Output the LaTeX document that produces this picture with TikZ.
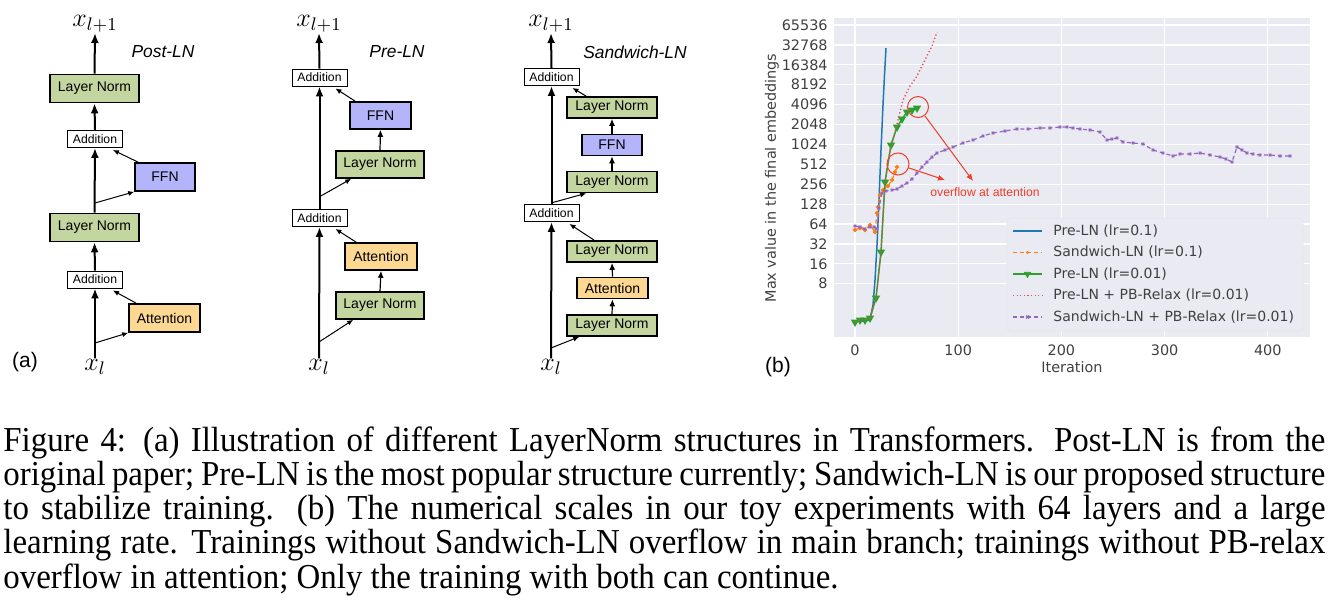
\RequirePackage{fix-cm}
\documentclass[tikz,border=0pt]{standalone}
\usepackage{fontspec}
\setmainfont{Liberation Serif}
\setsansfont{Liberation Sans}
\newfontfamily\plotfont{DejaVu Sans}
\newfontfamily\capserif[FakeStretch=0.94]{Liberation Serif}
\usetikzlibrary{arrows.meta,plotmarks}

\definecolor{lngreen}{RGB}{196,214,160}
\definecolor{ffnblue}{RGB}{180,180,250}
\definecolor{attorange}{RGB}{252,216,147}
\definecolor{plotbg}{RGB}{234,234,242}
\definecolor{tabblue}{RGB}{31,119,180}
\definecolor{taborange}{RGB}{255,127,14}
\definecolor{tabgreen}{RGB}{44,160,44}
\definecolor{tabred}{RGB}{214,39,40}
\definecolor{tabpurple}{RGB}{148,103,189}
\definecolor{annred}{RGB}{236,62,40}

\newcommand\xsz{\fontsize{13}{15}\selectfont}
\newcommand\capfont{\capserif\fontsize{17.5}{17.15}\selectfont\lineskiplimit=-20pt\relax}
\newcommand\capline[1]{\makebox[661pt][s]{#1}}

\begin{document}
\begin{tikzpicture}[x=0.5pt, y=-0.5pt, every node/.style={font=\sffamily},
	blk/.style={draw=black, line width=0.8pt, inner sep=0pt, font=\sffamily\fontsize{7}{8}\selectfont},
	lnbox/.style={blk, fill=lngreen, minimum width=44.5pt, minimum height=14pt},
	ffnbox/.style={blk, fill=ffnblue, minimum width=30pt, minimum height=14pt},
	attbox/.style={blk, fill=attorange, minimum width=35.5pt, minimum height=14pt},
	flat/.style={minimum height=10.5pt},
	addbox/.style={draw=black, line width=0.45pt, fill=white, inner sep=0pt, minimum width=27.5pt, minimum height=8.5pt, font=\sffamily\fontsize{6.1}{7}\selectfont},
	title/.style={font=\sffamily\itshape\fontsize{8.7}{10}\selectfont},
	mainarr/.style={line width=1pt, -{Latex[length=5pt,width=4pt]}},
	colarr/.style={line width=0.6pt, -{Latex[length=3.5pt,width=3pt]}},
	sidearr/.style={line width=0.5pt, -{Latex[length=3pt,width=2.6pt]}},
	ticklab/.style={font=\plotfont\fontsize{7.2}{8}\selectfont, text=black!75, inner sep=0pt},
	legtext/.style={font=\plotfont\fontsize{7}{8}\selectfont, text=black!75, inner sep=0pt, anchor=west}]
	\useasboundingbox (0,0) rectangle (1340,606);

	% Post-LN
	\node (postIn) at (95,367) {\xsz$x_l$};
	\node (postOut) at (95,24) {\xsz$x_{l+1}$};
	\node[title] (postT) at (163,52) {Post-LN};
	\node[addbox] (postA1) at (95,279.5) {Addition};
	\node[lnbox] (postLN1) at (94.5,227.5) {Layer Norm};
	\node[addbox] (postA2) at (95,139) {Addition};
	\node[lnbox] (postLN2) at (94.5,88.5) {Layer Norm};
	\node[attbox] (postAtt) at (164.5,318) {Attention};
	\node[ffnbox] (postFFN) at (165,177) {FFN};
	\coordinate (postB1) at (95,343);
	\coordinate (postB2) at (95,203);
	\draw[mainarr] (95,358) -- (postA1.south);
	\draw[mainarr] (postA1.north) -- (postLN1.south);
	\draw[mainarr] (postLN1.north) -- (postA2.south);
	\draw[mainarr] (postA2.north) -- (postLN2.south);
	\draw[mainarr] (postLN2.north) -- (95,33);
	\draw[sidearr] (postB1) -- (postAtt.south west);
	\draw[sidearr] ([xshift=4pt]postAtt.north west) -- ([xshift=-5pt,yshift=-1pt]postA1.south east);
	\draw[sidearr] (postB2) -- (postFFN.south west);
	\draw[sidearr] ([xshift=2pt]postFFN.north west) -- ([xshift=-5pt,yshift=-1pt]postA2.south east);
	\node[font=\sffamily\fontsize{10.5}{12}\selectfont] (labA) at (25,362) {(a)};

	% Pre-LN
	\node (preIn) at (319,367) {\xsz$x_l$};
	\node (preOut) at (319,24) {\xsz$x_{l+1}$};
	\node[title] (preT) at (397,52) {Pre-LN};
	\node[addbox] (preA1) at (319.5,218) {Addition};
	\node[addbox] (preA2) at (319.5,77.5) {Addition};
	\node[lnbox, minimum width=44pt, minimum height=13.5pt] (preLN1) at (380,305.5) {Layer Norm};
	\node[attbox, minimum width=36pt, minimum height=13.5pt] (preAtt) at (381,256.5) {Attention};
	\node[lnbox, minimum width=44pt, minimum height=13.5pt] (preLN2) at (380,164.5) {Layer Norm};
	\node[ffnbox, minimum width=30.5pt, minimum height=13.5pt] (preFFN) at (380.5,115.5) {FFN};
	\coordinate (preB1) at (319,342);
	\coordinate (preB2) at (319,197);
	\draw[mainarr] (319,358) -- (preA1.south);
	\draw[mainarr] (preA1.north) -- (preA2.south);
	\draw[mainarr] (preA2.north) -- (319,33);
	\draw[colarr] (preLN1.north) -- (preAtt.south);
	\draw[colarr] (preLN2.north) -- (preFFN.south);
	\draw[sidearr] (preB1) -- ([xshift=9pt]preLN1.south west);
	\draw[sidearr] ([xshift=6pt]preAtt.north west) -- ([xshift=-6pt,yshift=-1pt]preA1.south east);
	\draw[sidearr] (preB2) -- ([xshift=8pt]preLN2.south west);
	\draw[sidearr] ([xshift=3pt]preFFN.north west) -- ([xshift=-6pt,yshift=-1pt]preA2.south east);

	% Sandwich-LN
	\node (sanIn) at (551,367) {\xsz$x_l$};
	\node (sanOut) at (551,24) {\xsz$x_{l+1}$};
	\node[title] (sanT) at (635,52) {Sandwich-LN};
	\node[addbox] (sanA1) at (551.5,213) {Addition};
	\node[addbox] (sanA2) at (551.5,77) {Addition};
	\node[lnbox, flat, minimum width=45pt] (sanLN1) at (612,325.5) {Layer Norm};
	\node[attbox, flat] (sanAtt) at (612.5,288) {Attention};
	\node[lnbox, flat, minimum width=45pt] (sanLN2) at (612,251.5) {Layer Norm};
	\node[lnbox, flat, minimum width=45pt] (sanLN3) at (612,182) {Layer Norm};
	\node[ffnbox, flat] (sanFFN) at (612,145) {FFN};
	\node[lnbox, flat, minimum width=45pt] (sanLN4) at (612,107.5) {Layer Norm};
	\coordinate (sanB1) at (551,348);
	\coordinate (sanB2) at (551,203);
	\draw[mainarr] (551,358) -- (sanA1.south);
	\draw[mainarr] (sanA1.north) -- (sanA2.south);
	\draw[mainarr] (sanA2.north) -- (551,33);
	\draw[colarr] (sanLN1.north) -- (sanAtt.south);
	\draw[colarr] (sanAtt.north) -- (sanLN2.south);
	\draw[colarr] (sanLN3.north) -- (sanFFN.south);
	\draw[colarr] (sanFFN.north) -- (sanLN4.south);
	\draw[sidearr] (sanB1) -- ([xshift=6.5pt]sanLN1.south west);
	\draw[sidearr] ([xshift=14pt]sanLN2.north west) -- ([xshift=-5pt,yshift=-1pt]sanA1.south east);
	\draw[sidearr] (sanB2) -- ([xshift=10pt]sanLN3.south west);
	\draw[sidearr] ([xshift=10pt]sanLN4.north west) -- ([xshift=-3.5pt,yshift=-1pt]sanA2.south east);

	% (b) plot
	\fill[plotbg] (834,18) rectangle (1310,337);
	\foreach \v [count=\i from 0] in {65536,32768,16384,8192,4096,2048,1024,512,256,128,64,32,16,8} {
		\draw[white, line width=0.6pt] (834,{25+\i*19.9}) -- (1310,{25+\i*19.9});
		\node[ticklab, anchor=east] (yt\i) at (828,{25+\i*19.9}) {\v};
	}
	\foreach \t in {0,100,200,300,400} {
		\draw[white, line width=0.6pt] ({855+1.032*\t},18) -- ({855+1.032*\t},337);
		\node[ticklab] (xt\t) at ({855+1.032*\t},350) {\t};
	}
	\node[ticklab] (xlab) at (1072,367) {Iteration};
	\node[ticklab, rotate=90] (ylab) at (772,178) {Max value in the final embeddings};
	\node[font=\sffamily\fontsize{10.5}{12}\selectfont] (labB) at (778,367) {(b)};

	\draw[tabblue, line width=0.75pt] plot coordinates {(855,322) (860,321) (865,321) (870,320) (873,305) (875,280) (877,245) (879,200) (881,150) (883,105) (884.5,75) (886,48)};
	\draw[taborange, line width=0.6pt, dash pattern=on 2pt off 1.5pt, mark=*, mark size=0.8pt, mark options={solid}] plot coordinates {(855,230) (860,228) (865,230) (870,225) (875,232) (877,213) (878,207) (880,195) (883,190) (888,186) (892,180) (895,172) (897,167)};
	\draw[tabgreen, line width=0.75pt, mark=triangle*, mark size=1.7pt, mark options={rotate=180}] plot coordinates {(855,322) (860,320) (865,320) (870,318) (876,298) (881,252) (885,182) (891,145) (897,127) (902,119) (907,112) (912,110) (917,108)};
	\draw[tabred!80, line width=0.7pt, dash pattern=on 0.6pt off 1.2pt] plot coordinates {(855,322) (860,320) (865,320) (870,318) (876,298) (881,252) (885,182) (890,150) (896,128) (903,100) (910,86) (917,76) (925,60) (932,46) (937,32)};
	\draw[tabpurple, line width=0.6pt, dash pattern=on 2pt off 1.5pt, mark=x, mark size=0.9pt, mark options={solid}] plot coordinates {(855,226) (860,227) (865,229) (870,227) (874,227) (877,229) (879,208) (882,193) (886,191) (892,190) (897,189) (902,186) (907,183) (912,179) (917,173) (922,167) (927,162) (932,157) (937,153) (945,150) (953,147) (963,143) (973,140) (983,136) (993,133) (1005,131) (1017,129) (1028,129) (1040,128) (1050,128) (1060,127) (1067,127) (1073,128) (1080,129) (1090,130) (1100,132) (1107,140) (1112,139) (1117,138) (1123,142) (1133,143) (1143,144) (1153,150) (1163,153) (1173,156) (1180,154) (1190,154) (1200,153) (1210,155) (1220,157) (1226,159) (1232,162) (1237,147) (1242,150) (1247,153) (1253,154) (1260,155) (1270,155) (1280,156) (1290,156)};

	% overflow marks
	\draw[annred, line width=0.5pt] (918,107) circle[radius=5.25pt];
	\draw[annred, line width=0.5pt] (898,164) circle[radius=5.5pt];
	\coordinate (ov1) at (925,116);
	\coordinate (ov2) at (909,168);
	\node[font=\sffamily\fontsize{6.1}{7}\selectfont, text=annred, inner sep=0pt, anchor=west] (ovText) at (930,192) {overflow at attention};
	\draw[annred, line width=0.5pt, -{Latex[length=3.5pt,width=3pt]}] (ov1) -- (973,181);
	\draw[annred, line width=0.5pt, -{Latex[length=3.5pt,width=3pt]}] (ov2) -- (945,180);

	% legend
	\draw[fill=plotbg, draw=black!10, line width=0.4pt, rounded corners=2pt] (1007,218) rectangle (1303,331);
	\draw[tabblue, line width=0.75pt] (1013,231) -- (1042,231);
	\node[legtext] (leg1) at (1053,231) {Pre-LN (lr=0.1)};
	\draw[taborange, line width=0.6pt, dash pattern=on 2pt off 1.5pt] (1013,252.5) -- (1042,252.5);
	\fill[taborange] (1027.5,252.5) circle[radius=0.8pt];
	\node[legtext] (leg2) at (1053,252.5) {Sandwich-LN (lr=0.1)};
	\draw[tabgreen, line width=0.75pt] (1013,274) -- (1042,274);
	\draw[tabgreen, mark=triangle*, mark size=1.7pt, mark options={rotate=180}] plot coordinates {(1027.5,274)};
	\node[legtext] (leg3) at (1053,274) {Pre-LN (lr=0.01)};
	\draw[tabred!80, line width=0.7pt, dash pattern=on 0.6pt off 1.2pt] (1013,295.5) -- (1042,295.5);
	\node[legtext] (leg4) at (1053,295.5) {Pre-LN + PB-Relax (lr=0.01)};
	\draw[tabpurple, line width=0.6pt, dash pattern=on 2pt off 1.5pt] (1013,317) -- (1042,317);
	\draw[tabpurple, line width=0.6pt] (1026,315.5) -- (1029,318.5) (1026,318.5) -- (1029,315.5);
	\node[legtext] (leg5) at (1053,317) {Sandwich-LN + PB-Relax (lr=0.01)};

	% caption
	\node[anchor=north west, inner sep=0pt, align=left, font=\capfont] (cap) at (3,426) {\capline{Figure 4: (a) Illustration of different LayerNorm structures in Transformers. Post-LN is from the}\\ \capline{original paper; Pre-LN is the most popular structure currently; Sandwich-LN is our proposed structure}\\ \capline{to stabilize training. (b) The numerical scales in our toy experiments with 64 layers and a large}\\ \capline{learning rate. Trainings without Sandwich-LN overflow in main branch; trainings without PB-relax}\\ overflow in attention; Only the training with both can continue.};
\end{tikzpicture}
\end{document}
